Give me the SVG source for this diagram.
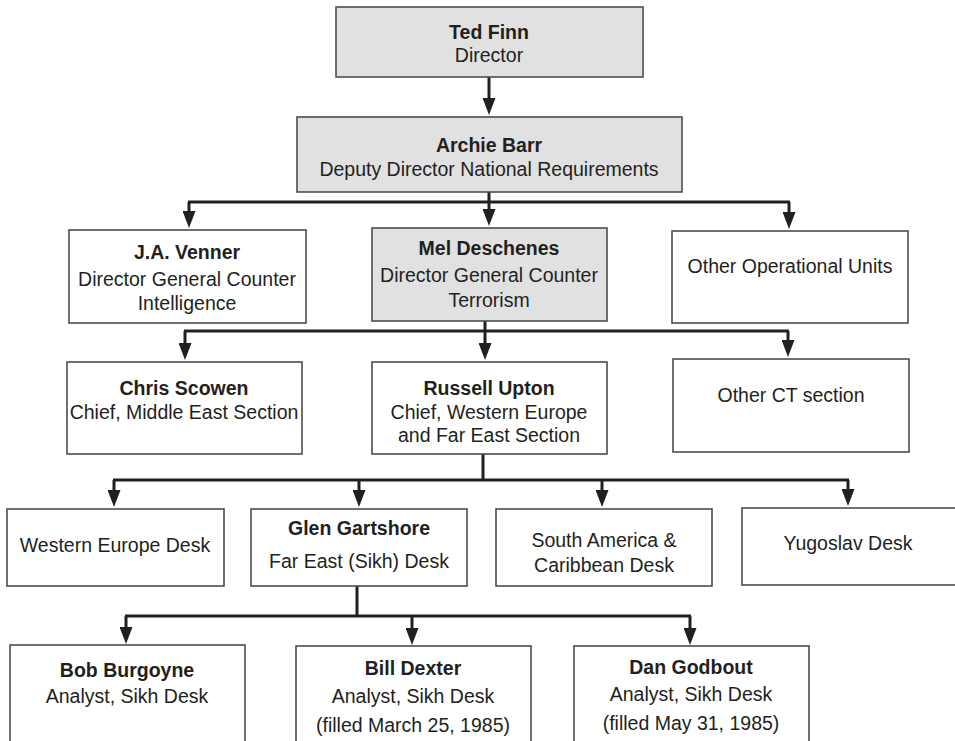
<svg xmlns="http://www.w3.org/2000/svg" width="955" height="741" viewBox="0 0 955 741">
<style>
.box{fill:#ffffff;stroke:#4d4d4d;stroke-width:1.6}
.gray{fill:#e1e1e1}
text{font-family:"Liberation Sans",Arial,sans-serif;font-size:19.5px;fill:#231f20;text-anchor:middle}
.b{font-weight:bold}
.ln{fill:none;stroke:#231f20;stroke-width:3}
.ar{fill:none;stroke:#231f20;stroke-width:3;marker-end:url(#ah)}
</style>
<defs>
<marker id="ah" viewBox="0 0 17 13" markerWidth="17" markerHeight="13" refX="9" refY="6.5" orient="auto" markerUnits="userSpaceOnUse">
<path d="M0,0 L17,6.5 L0,13 z" fill="#231f20"/>
</marker>
</defs>
<rect width="955" height="741" fill="#ffffff"/>
<g id="connectors">
<path class="ar" d="M489,77 V107"/>
<path class="ln" d="M489,192 V202 M188,202 H790"/>
<path class="ar" d="M189,202 V220"/>
<path class="ar" d="M489,202 V218"/>
<path class="ar" d="M789,202 V221"/>
<path class="ln" d="M485,321 V331 M184,331 H789"/>
<path class="ar" d="M185,331 V352"/>
<path class="ar" d="M485,331 V352"/>
<path class="ar" d="M788,331 V349"/>
<path class="ln" d="M483,454 V480 M113,480 H849"/>
<path class="ar" d="M114,480 V499"/>
<path class="ar" d="M359,480 V499"/>
<path class="ar" d="M602,480 V499"/>
<path class="ar" d="M848,480 V498"/>
<path class="ln" d="M357,586 V616 M125,616 H691"/>
<path class="ar" d="M126,616 V636"/>
<path class="ar" d="M412,616 V637"/>
<path class="ar" d="M690,616 V637"/>
</g>
<g id="ted-finn">
<rect class="box gray" x="336" y="7" width="307" height="70"/>
<text class="b" x="489" y="39">Ted Finn</text>
<text x="489" y="62">Director</text>
</g>
<g id="archie-barr">
<rect class="box gray" x="297" y="117" width="385" height="75"/>
<text class="b" x="489" y="152">Archie Barr</text>
<text x="489" y="176">Deputy Director National Requirements</text>
</g>
<g id="venner">
<rect class="box" x="69" y="230" width="237" height="93"/>
<text class="b" x="187" y="259">J.A. Venner</text>
<text x="187" y="286">Director General Counter</text>
<text x="187" y="310">Intelligence</text>
</g>
<g id="deschenes">
<rect class="box gray" x="372" y="228" width="235" height="93"/>
<text class="b" x="489" y="255">Mel Deschenes</text>
<text x="489" y="282">Director General Counter</text>
<text x="489" y="307">Terrorism</text>
</g>
<g id="other-op">
<rect class="box" x="672" y="231" width="236" height="92"/>
<text x="790" y="273">Other Operational Units</text>
</g>
<g id="scowen">
<rect class="box" x="67" y="362" width="235" height="92"/>
<text class="b" x="184" y="395">Chris Scowen</text>
<text x="184" y="419">Chief, Middle East Section</text>
</g>
<g id="upton">
<rect class="box" x="372" y="362" width="235" height="92"/>
<text class="b" x="489" y="395">Russell Upton</text>
<text x="489" y="419">Chief, Western Europe</text>
<text x="489" y="442">and Far East Section</text>
</g>
<g id="other-ct">
<rect class="box" x="673" y="359" width="236" height="93"/>
<text x="791" y="402">Other CT section</text>
</g>
<g id="we-desk">
<rect class="box" x="7" y="509" width="217" height="77"/>
<text x="115" y="552">Western Europe Desk</text>
</g>
<g id="gartshore">
<rect class="box" x="251" y="509" width="216" height="77"/>
<text class="b" x="359" y="535">Glen Gartshore</text>
<text x="359" y="568">Far East (Sikh) Desk</text>
</g>
<g id="sa-desk">
<rect class="box" x="496" y="509" width="216" height="77"/>
<text x="604" y="547">South America &amp;</text>
<text x="604" y="572">Caribbean Desk</text>
</g>
<g id="yugoslav">
<rect class="box" x="742" y="508" width="215" height="77"/>
<text x="848" y="550">Yugoslav Desk</text>
</g>
<g id="burgoyne">
<rect class="box" x="10" y="645" width="235" height="102"/>
<text class="b" x="127" y="677">Bob Burgoyne</text>
<text x="127" y="703">Analyst, Sikh Desk</text>
</g>
<g id="dexter">
<rect class="box" x="296" y="646" width="235" height="101"/>
<text class="b" x="413" y="675">Bill Dexter</text>
<text x="413" y="703">Analyst, Sikh Desk</text>
<text x="413" y="732">(filled March 25, 1985)</text>
</g>
<g id="godbout">
<rect class="box" x="574" y="646" width="235" height="101"/>
<text class="b" x="691" y="674">Dan Godbout</text>
<text x="691" y="701">Analyst, Sikh Desk</text>
<text x="691" y="730">(filled May 31, 1985)</text>
</g>
</svg>
